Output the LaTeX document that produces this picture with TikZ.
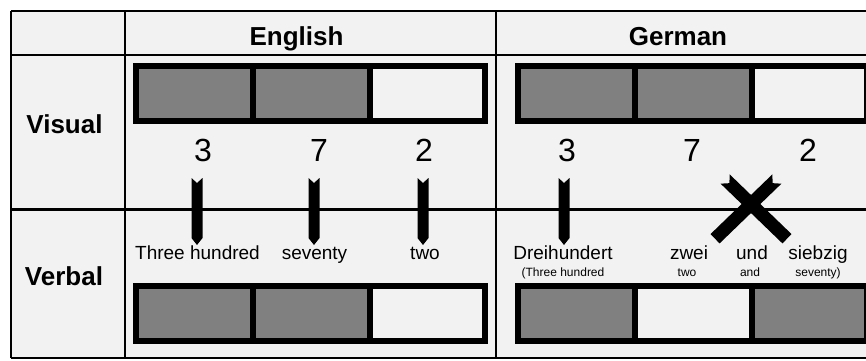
\documentclass[tikz,border=0pt]{standalone}
\usepackage{fontspec}
\setmainfont{Liberation Sans}
\definecolor{paper}{HTML}{F2F2F2}
\definecolor{cellgray}{HTML}{808080}
% three-cell strip: #1 left, #2 top, #3--#5 cell fills
\newcommand\cellstrip[5]{%
  \begin{scope}[shift={(#1,#2)}]
    \fill[#3] (0,0) rectangle (119.5,61);
    \fill[#4] (119.5,0) rectangle (236.5,61);
    \fill[#5] (236.5,0) rectangle (355,61);
    \draw[barline] (3,3) rectangle (352,58);
    \draw[barline] (119.5,3) -- (119.5,58);
    \draw[barline] (236.5,3) -- (236.5,58);
  \end{scope}}
\begin{document}
\begin{tikzpicture}[x=1pt,y=-1pt,
  grid/.style={line width=2.5pt,black},
  barline/.style={line width=6pt,black},
  head/.style={font=\fontsize{26}{26}\selectfont\bfseries,anchor=base,inner sep=0pt},
  digit/.style={font=\fontsize{32}{32}\selectfont,anchor=base,inner sep=0pt},
  word/.style={font=\fontsize{19}{19}\selectfont,anchor=base,inner sep=0pt},
  gloss/.style={font=\fontsize{12}{12}\selectfont,anchor=base,inner sep=0pt},
  marker/.pic={\fill[black] (-5.5,-33) -- (0,-28) -- (5.5,-33) -- (5.5,27) -- (0,34) -- (-5.5,27) -- cycle;},
  slash/.pic={\fill[black] (-36,-6.5) -- (-30,0) -- (-36,6.5) -- (50,6.5) -- (50,-6.5) -- cycle;}
]
\useasboundingbox (0,0) rectangle (866,360);
\clip (0,0) rectangle (866,360);
\fill[white] (0,0) rectangle (866,360);
\fill[paper] (11,11) rectangle (872,358);

% table rules
\draw[grid] (11,11) -- (872,11);
\draw[grid] (11,55) -- (872,55);
\draw[grid] (11,209.5) -- (872,209.5);
\draw[grid] (11,358) -- (872,358);
\draw[grid] (11,11) -- (11,358);
\draw[grid] (125,11) -- (125,358);
\draw[grid] (496,11) -- (496,358);

% headers
\node[head] (hEn) at (296.5,45) {English};
\node[head] (hDe) at (678,45) {German};
\node[head] (rVis) at (64.5,133) {Visual};
\node[head] (rVerb) at (64,285) {Verbal};

% visual strips
\cellstrip{133}{63}{cellgray}{cellgray}{paper}
\cellstrip{515}{63}{cellgray}{cellgray}{paper}

% digits
\node[digit] (en3) at (203,161) {3};
\node[digit] (en7) at (319,161) {7};
\node[digit] (en2) at (424,161) {2};
\node[digit] (de3) at (567,161) {3};
\node[digit] (de7) at (692,161) {7};
\node[digit] (de2) at (808,161) {2};

% transcoding markers
\pic at (197,211) {marker};
\pic at (314,211) {marker};
\pic at (423,211) {marker};
\pic at (564,211) {marker};
\pic[rotate=-44] at (751,204) {slash};
\pic[rotate=-136] at (751,204) {slash};

% number words
\node[word] (enW1) at (197.5,259) {Three hundred};
\node[word] (enW2) at (314.5,259) {seventy};
\node[word] (enW3) at (425,259) {two};
\node[word] (deW1) at (563,259) {Dreihundert};
\node[word] (deW2) at (689,259) {zwei};
\node[word] (deW3) at (752,259) {und};
\node[word] (deW4) at (818,259) {siebzig};
\node[gloss] (deG1) at (563,276) {(Three hundred};
\node[gloss] (deG2) at (687,276) {two};
\node[gloss] (deG3) at (750,276) {and};
\node[gloss] (deG4) at (818,276) {seventy)};

% verbal strips
\cellstrip{133}{283}{cellgray}{cellgray}{paper}
\cellstrip{515}{283}{cellgray}{paper}{cellgray}
\end{tikzpicture}
\end{document}
